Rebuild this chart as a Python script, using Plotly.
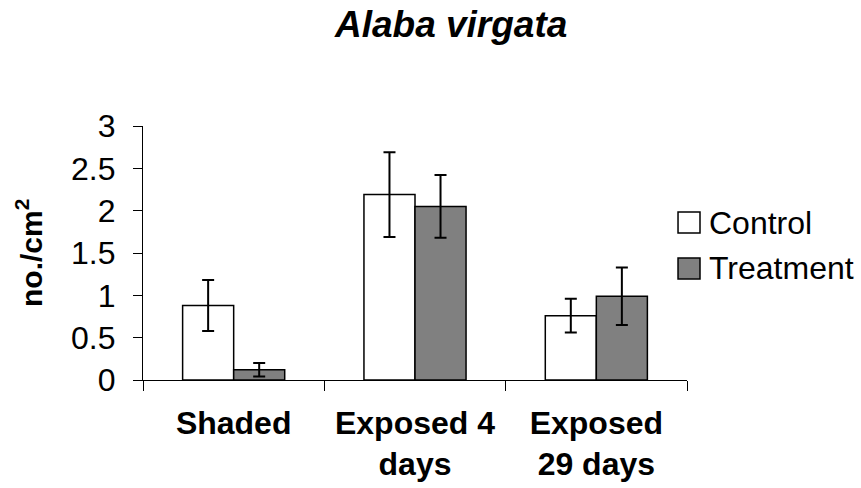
import plotly.graph_objects as go

# Sampling sites and group means (individuals per cm^2) with error margins
categories = ["Shaded", "Exposed 4<br>days", "Exposed<br>29 days"]
series_names = ["Control", "Treatment"]
control_mean = [0.88, 2.19, 0.76]
control_err = [0.30, 0.50, 0.20]
treatment_mean = [0.12, 2.05, 0.99]
treatment_err = [0.08, 0.37, 0.34]
y_ticks = [0, 0.5, 1, 1.5, 2, 2.5, 3]
y_tick_labels = ["0", "0.5", "1", "1.5", "2", "2.5", "3"]

FONT = "Liberation Sans, Arial, sans-serif"
fills = ["#ffffff", "#808080"]

fig = go.Figure()
for name, means, errs, fill in zip(
    series_names,
    [control_mean, treatment_mean],
    [control_err, treatment_err],
    fills,
):
    fig.add_trace(
        go.Bar(
            name=name,
            x=categories,
            y=means,
            marker=dict(color=fill, line=dict(color="black", width=1.5)),
            error_y=dict(type="data", array=errs, visible=True,
                         color="black", thickness=2, width=6),
            showlegend=False,
        )
    )

# Legend drawn as boxed swatches with labels beside the plot
legend_rows = [(0.661, 0.579), (0.480, 0.398)]
for name, fill, (y1, y0) in zip(series_names, fills, legend_rows):
    fig.add_shape(type="rect", xref="paper", yref="paper",
                  x0=0.9835, x1=1.0239, y0=y0, y1=y1,
                  fillcolor=fill, line=dict(color="black", width=1.5))
    fig.add_annotation(xref="paper", yref="paper", x=1.037, y=(y0 + y1) / 2,
                       text=name, showarrow=False, xanchor="left",
                       yanchor="middle",
                       font=dict(family=FONT, size=32, color="black"))

# Vertical axis title
fig.add_annotation(xref="paper", yref="paper", x=-0.2096, y=0.5,
                   text="<b>no./cm<sup>2</sup></b>", textangle=-90,
                   showarrow=False, xanchor="center", yanchor="middle",
                   font=dict(family=FONT, size=30, color="black"))

fig.update_layout(
    width=861,
    height=488,
    margin=dict(l=143, r=174, t=126, b=108),
    paper_bgcolor="white",
    plot_bgcolor="white",
    barmode="group",
    bargap=0.437,
    bargroupgap=0,
    font=dict(family=FONT, color="black"),
    title=dict(
        text="<b><i>Alaba virgata</i></b>",
        x=0.524, xref="container", xanchor="center",
        y=0.978, yref="container", yanchor="top",
        font=dict(family=FONT, size=37, color="black"),
    ),
    xaxis=dict(
        type="category", automargin=False,
        showline=True, linecolor="black", linewidth=1.2,
        ticks="outside", tickson="boundaries", ticklen=10,
        tickcolor="black", tickwidth=1.2,
        ticklabelstandoff=14,
        tickfont=dict(family=FONT, size=32, color="black", weight="bold"),
        showgrid=False, zeroline=False,
    ),
    yaxis=dict(
        range=[0, 3], automargin=False,
        tickvals=y_ticks, ticktext=y_tick_labels,
        showline=True, linecolor="black", linewidth=1.2,
        ticks="outside", ticklen=9, tickcolor="black", tickwidth=1.2,
        ticklabelstandoff=11,
        tickfont=dict(family=FONT, size=32, color="black"),
        showgrid=False, zeroline=False,
    ),
)

fig.write_html("out.html")
